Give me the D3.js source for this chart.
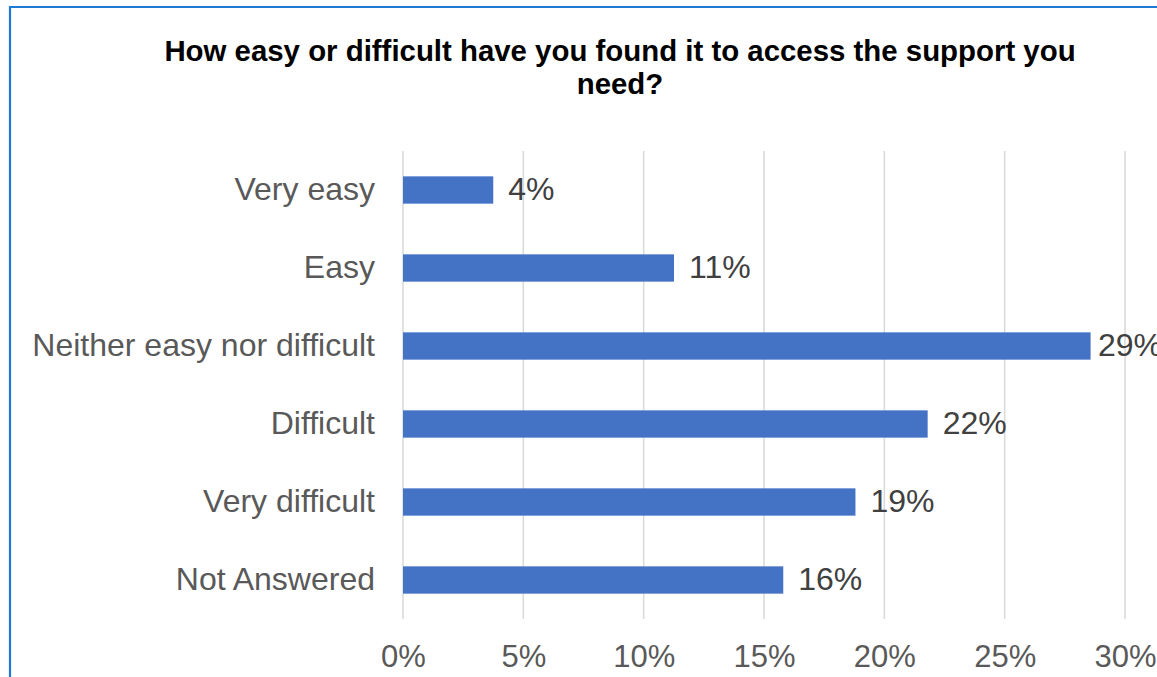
<!DOCTYPE html>
<html>
<head>
<meta charset="utf-8">
<script src="https://cdn.jsdelivr.net/npm/d3@7"></script>
<style>
  html, body { margin: 0; padding: 0; background: #fff; overflow: hidden; }
  svg { display: block; }
</style>
</head>
<body>
<svg id="chart" width="1157" height="677"></svg>
<script>
// Survey responses: share of respondents per answer
const categories = ["Very easy", "Easy", "Neither easy nor difficult", "Difficult", "Very difficult", "Not Answered"];
const shares = [0.0375, 0.1126, 0.2857, 0.218, 0.188, 0.158];
const tickValues = [0, 0.05, 0.10, 0.15, 0.20, 0.25, 0.30];
const titleLines = ["How easy or difficult have you found it to access the support you", "need?"];

const svg = d3.select("#chart");
const font = "'Liberation Sans', Arial, sans-serif";

// outer frame (left and top edges visible)
svg.append("path")
  .attr("d", "M10,677 V7 H1157")
  .attr("fill", "none")
  .attr("stroke", "#1F7AD1")
  .attr("stroke-width", 2.2);

const x = d3.scaleLinear().domain([0, 0.30]).range([403, 1125]);
const y = d3.scaleBand().domain(categories).range([151, 619]).paddingInner(0.65).paddingOuter(0.325);

// vertical gridlines
svg.append("g")
  .selectAll("line")
  .data(tickValues)
  .join("line")
  .attr("x1", d => x(d)).attr("x2", d => x(d))
  .attr("y1", 151).attr("y2", 619)
  .attr("stroke", "#D9D9D9")
  .attr("stroke-width", 1.5);

// bars
svg.append("g")
  .selectAll("rect")
  .data(categories)
  .join("rect")
  .attr("x", x(0))
  .attr("y", c => y(c))
  .attr("width", (c, i) => x(shares[i]) - x(0))
  .attr("height", y.bandwidth())
  .attr("fill", "#4472C4");

const pct = d3.format(".0%");

// value labels, kept inside the plot's right edge
svg.append("g")
  .selectAll("text")
  .data(categories)
  .join("text")
  .attr("x", (c, i) => Math.min(x(shares[i]) + 15, 1098))
  .attr("y", c => y(c) + y.bandwidth() / 2)
  .attr("dy", "0.3em")
  .attr("font-family", font)
  .attr("font-size", 32)
  .attr("fill", "#404040")
  .text((c, i) => pct(shares[i]));

// category axis
const yAxis = svg.append("g")
  .attr("transform", `translate(${x(0) - 28},0)`)
  .call(d3.axisLeft(y).tickSize(0).tickPadding(0));
yAxis.select(".domain").remove();
yAxis.selectAll("text")
  .attr("dy", "0.3em")
  .attr("font-family", font)
  .attr("font-size", 32)
  .attr("fill", "#595959");

// value axis
const xAxis = svg.append("g")
  .attr("transform", "translate(0,645)")
  .call(d3.axisBottom(x).tickValues(tickValues).tickFormat(d3.format(".0%")).tickSize(0).tickPadding(0));
xAxis.select(".domain").remove();
xAxis.selectAll("text")
  .attr("font-family", font)
  .attr("font-size", 31)
  .attr("fill", "#595959");

// title
svg.append("text")
  .attr("font-family", font)
  .attr("font-weight", "bold")
  .attr("font-size", 29.4)
  .attr("fill", "#000")
  .attr("text-anchor", "middle")
  .selectAll("tspan")
  .data(titleLines)
  .join("tspan")
  .attr("x", 620)
  .attr("y", (d, i) => 61 + i * 33)
  .text(d => d);
</script>
</body>
</html>
